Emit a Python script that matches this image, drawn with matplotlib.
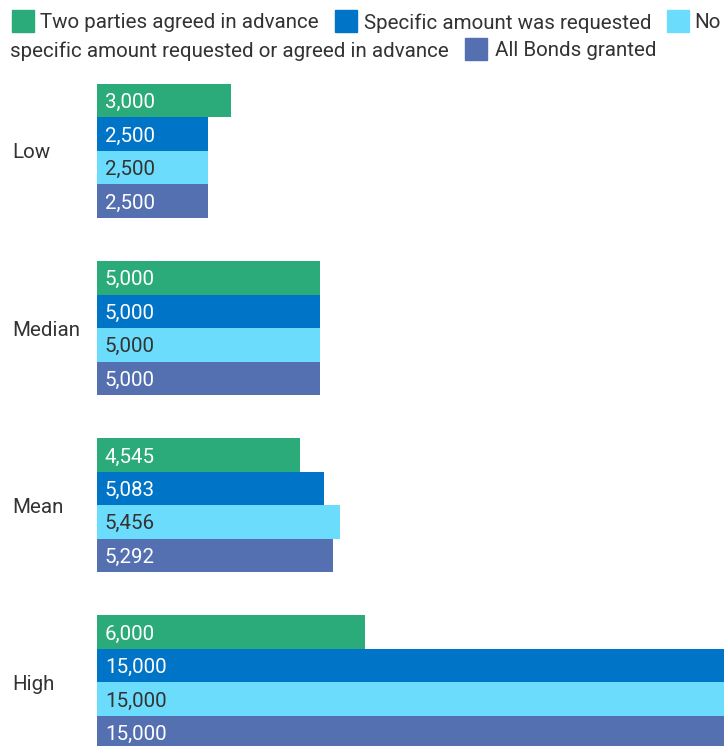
import numpy as np
import matplotlib.pyplot as plt
from matplotlib.patches import Rectangle
from matplotlib.transforms import blended_transform_factory

plt.rcParams['font.family'] = ['Roboto', 'DejaVu Sans']

categories = ['Low', 'Median', 'Mean', 'High']
series = ['Two parties agreed in advance', 'Specific amount was requested',
          'No specific amount requested or agreed in advance', 'All Bonds granted']
two_parties = [3000, 5000, 4545, 6000]
specific_requested = [2500, 5000, 5083, 15000]
no_specific = [2500, 5000, 5456, 15000]
all_bonds = [2500, 5000, 5292, 15000]

colors = ['#2aab79', '#0074c6', '#6cdcfd', '#5470b1']
label_colors = ['white', 'white', '#333333', 'white']
FS = 14.8

W, H = 724, 746
fig = plt.figure(figsize=(W / 100, H / 100), dpi=100)

# axes begins where the bars start and runs off the right/bottom edges
ax = fig.add_axes([96.5 / W, 0, 1 - 96.5 / W, 1 - 84 / H])
h = 0.189
values = [two_parties, specific_requested, no_specific, all_bonds]
y = np.arange(len(categories))
for j, vals in enumerate(values):
    pos = y + (j - 1.5) * h
    ax.barh(pos, vals, height=h, color=colors[j], edgecolor='none')
    for p, v in zip(pos, vals):
        ax.annotate(f'{v:,}', (0, p), xytext=(6, 0), textcoords='offset points',
                    ha='left', va='center_baseline', fontsize=FS, color=label_colors[j])

ax.set_xlim(0, 14040)
ax.set_ylim(-2 * h + (H - 84) / 177.1, -2 * h)
ax.axis('off')

trans = blended_transform_factory(fig.transFigure, ax.transData)
for i, c in enumerate(categories):
    ax.text(12 / W, i, c, transform=trans, ha='left', va='center_baseline',
            fontsize=FS, color='#333333')

# legend, wrapped over two lines
def legend_item(x_sq, y_c, color, text, x_txt):
    fig.patches.append(Rectangle((x_sq / W, 1 - (y_c + 11) / H), 22 / W, 22 / H,
                                 transform=fig.transFigure, color=color))
    if text:
        fig.text(x_txt / W, 1 - y_c / H, text, ha='left', va='center_baseline',
                 fontsize=FS, color='#333333')

legend_item(12, 21, colors[0], series[0], 40)
legend_item(335, 21, colors[1], 'Specific amount was requested', 364)
legend_item(667, 21, colors[2], 'No', 694)
fig.text(10 / W, 1 - 49 / H, 'specific amount requested or agreed in advance',
         ha='left', va='center_baseline', fontsize=FS, color='#333333')
legend_item(465, 49, colors[3], series[3], 495)

fig.savefig('out.png', dpi=100)
